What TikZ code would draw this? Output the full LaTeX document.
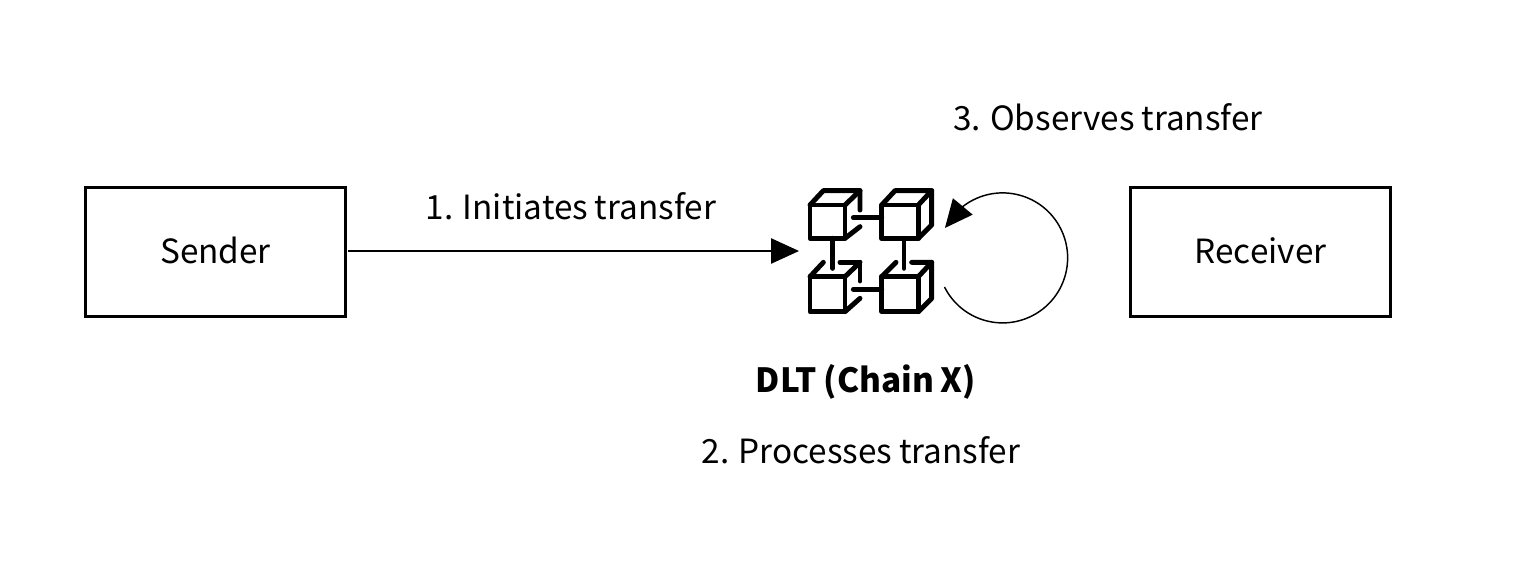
\documentclass[tikz,border=0pt]{standalone}
\usepackage{fontspec}
\setmainfont[WordSpace=0.9]{Noto Sans CJK KR}
\usetikzlibrary{arrows.meta,bending}
\tikzset{
  box/.style={draw=black,line width=2.2pt,minimum width=194.5pt,minimum height=96.5pt,inner sep=0pt,font=\fontsize{25}{28}\selectfont,text height=16.5pt,text depth=0pt},
  lab/.style={anchor=base,inner sep=0pt,font=\fontsize{25}{28}\selectfont},
  flow/.style={draw=black,line width=1.1pt,-{Triangle[length=21pt,width=19pt,flex=1]}},
  ico/.style={draw=black,line width=3.7pt,line cap=round,line join=round}
}
\begin{document}
\begin{tikzpicture}[x=0.75pt,y=-0.75pt]
\useasboundingbox (0,0) rectangle (1519,570);
\fill[white] (0,0) rectangle (1519,570);
\node[box] (sender) at (215.5,252) {Sender};
\node[box] (receiver) at (1260.5,252) {Receiver};
\node[lab] (l1) at (571,220) {1. Initiates transfer};
\node[lab] (l3) at (1108,131) {3. Observes transfer};
\node[lab,font=\fontsize{25}{28}\selectfont\bfseries] (dlt) at (866,392) {DLT (Chain X)};
\node[lab] (l2) at (861,463) {2. Processes transfer};
\coordinate (chain) at (799,251);
\coordinate (loopstart) at (944.5,287);
\draw[flow,shorten <=1.2pt] (sender.east |- chain) -- (chain);
\draw[flow] (loopstart) arc[start angle=206.6,end angle=512.6,radius=48.75pt];
\begin{scope}[shift={(790,175)},x=0.25pt,y=-0.25pt,ico]
\draw (60,90) rectangle (165,190);
\draw (60,90) -- (100,47) -- (210,47) -- (210,105);
\draw (165,90) -- (210,47);
\draw (165,190) -- (210,155);
\draw (275,90) rectangle (385,190);
\draw (275,90) -- (315,47) -- (425,47) -- (425,150) -- (385,190);
\draw (385,90) -- (425,47);
\draw (60,305) rectangle (165,410);
\draw (60,305) -- (100,262);
\draw (150,262) -- (210,262) -- (210,318);
\draw (165,305) -- (210,262);
\draw (165,410) -- (210,370);
\draw (275,305) rectangle (385,410);
\draw (275,305) -- (318,262);
\draw (365,262) -- (425,262) -- (425,370) -- (385,410);
\draw (385,305) -- (425,262);
\draw (190,128) -- (275,128);
\draw (128,190) -- (128,280);
\draw (342,190) -- (342,280);
\draw (190,343) -- (275,343);
\end{scope}
\end{tikzpicture}
\end{document}
